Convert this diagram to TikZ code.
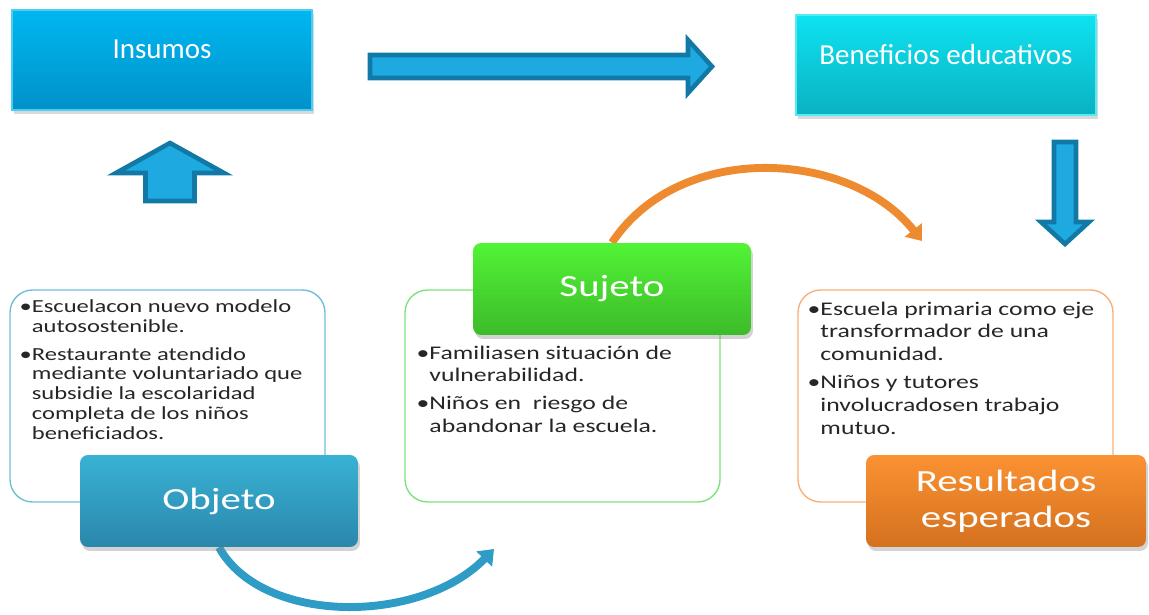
\documentclass[tikz,border=0pt]{standalone}
\usepackage{fontspec}
\setmainfont{Carlito}
\newfontfamily\widefont[FakeStretch=1.33]{Carlito}
\usepackage{xcolor}
\usetikzlibrary{arrows.meta,positioning,shadows,backgrounds}

\definecolor{insumostop}{HTML}{00B7F0}
\definecolor{insumosbot}{HTML}{0191C9}
\definecolor{benefitop}{HTML}{0EE2F0}
\definecolor{benefibot}{HTML}{0AB2C2}
\definecolor{arrowfill}{HTML}{1EAAE0}
\definecolor{arrowline}{HTML}{1279A6}
\definecolor{objetotop}{HTML}{38B2D4}
\definecolor{objetobot}{HTML}{2B87AC}
\definecolor{objetoline}{HTML}{70BEDA}
\definecolor{sujetotop}{HTML}{52F336}
\definecolor{sujetobot}{HTML}{3DBB2A}
\definecolor{sujetoline}{HTML}{7EE27E}
\definecolor{resultop}{HTML}{FB9233}
\definecolor{resulbot}{HTML}{D4711F}
\definecolor{resulline}{HTML}{F7B07A}
\definecolor{bluearc}{HTML}{2E9CC6}
\definecolor{orangearc}{HTML}{EE8B30}

\begin{document}
\begin{tikzpicture}[
    x=0.02cm, y=-0.02cm,
    topbox/.style={rectangle, minimum width=6cm, minimum height=2cm, line width=0.8pt,
        drop shadow={opacity=0.3, shadow xshift=0.04cm, shadow yshift=-0.08cm}},
    toptext/.style={text=white, inner sep=0pt, font=\fontsize{16.5}{19}\selectfont},
    listbox/.style={rectangle, rounded corners=0.45cm, draw=#1, line width=0.8pt, fill=white,
        minimum width=6.3cm, minimum height=4.24cm},
    listtext/.style={align=left, inner sep=0pt, anchor=north west, text=black!85},
    tagbox/.style={rectangle, rounded corners=0.16cm, minimum width=5.56cm, minimum height=1.84cm,
        text=white, align=center, font=\widefont\fontsize{17.5}{20.4}\selectfont,
        drop shadow={opacity=0.35, shadow xshift=0.04cm, shadow yshift=-0.08cm}},
    blockarrow/.style={draw=arrowline, fill=arrowfill, line width=2.6pt, line join=miter},
    curvearrow/.style={line width=4.5pt, -{Triangle[width=12pt,length=8pt]}}
]
\useasboundingbox (0,0) rectangle (1149,615);

% Top row
\node[topbox, top color=insumostop, bottom color=insumosbot, draw=insumostop!70!white] (insumos) at (162,60) {};
\node[toptext] (insumostext) at (162,49) {Insumos};
\node[topbox, top color=benefitop, bottom color=benefibot, draw=benefitop!70!white] (benef) at (946,65) {};
\node[toptext] (beneftext) at (946,55) {Beneficios educativos};

% Block arrows
\draw[blockarrow] (370,55) -- (688,55) -- (688,40) -- (712,66.5) -- (688,93) -- (688,78) -- (370,78) -- cycle;
\draw[blockarrow] (170,143) -- (224,173) -- (194.5,173) -- (194.5,201) -- (145.5,201) -- (145.5,173) -- (116,173) -- cycle;
\draw[blockarrow] (1054,142) -- (1076,142) -- (1076,222) -- (1089,222) -- (1065,244) -- (1041,222) -- (1054,222) -- cycle;

% Lists
\node[listbox=objetoline] (objlist) at (167.5,396) {};
\node[listbox=sujetoline] (sujlist) at (562.5,396) {};
\node[listbox=resulline] (reslist) at (955.5,396) {};

\node[listtext, font=\widefont\fontsize{10.5}{11.3}\selectfont,
    below right=0.2cm and 0.2cm of objlist.north west] (objtext)
    {\textbullet Escuelacon nuevo modelo\\
     \phantom{\textbullet}autosostenible.\\[4.5pt]
     \textbullet Restaurante atendido\\
     \phantom{\textbullet}mediante voluntariado que\\
     \phantom{\textbullet}subsidie la escolaridad\\
     \phantom{\textbullet}completa de los niños\\
     \phantom{\textbullet}beneficiados.};
\node[listtext, font=\widefont\fontsize{11}{13}\selectfont,
    below right=1.12cm and 0.24cm of sujlist.north west] (sujtext)
    {\textbullet Familiasen situación de\\
     \phantom{\textbullet}vulnerabilidad.\\[2.8pt]
     \textbullet Niños en \ riesgo de\\
     \phantom{\textbullet}abandonar la escuela.};
\node[listtext, font=\widefont\fontsize{11}{13}\selectfont,
    below right=0.24cm and 0.2cm of reslist.north west] (restext)
    {\textbullet Escuela primaria como eje\\
     \phantom{\textbullet}transformador de una\\
     \phantom{\textbullet}comunidad.\\[2.8pt]
     \textbullet Niños y tutores\\
     \phantom{\textbullet}involucradosen trabajo\\
     \phantom{\textbullet}mutuo.};

% Tags
\node[tagbox, top color=objetotop, bottom color=objetobot] (objeto) at (219,501) {Objeto};
\node[tagbox, top color=sujetotop, bottom color=sujetobot] (sujeto) at (612,289) {Sujeto};
\node[tagbox, top color=resultop, bottom color=resulbot, minimum width=5.6cm] (result) at (1006,501) {Resultados\\esperados};

% Curved arrows
\coordinate (bluetip) at (494,549);
\coordinate (orangetip) at (922,241);
\begin{scope}[on background layer]
\draw[curvearrow, draw=bluearc] (objeto.south) .. controls (262,625) and (420,625) .. (bluetip);
\draw[curvearrow, draw=orangearc] (sujeto.north) .. controls (680,140) and (850,150) .. (orangetip);
\end{scope}
\end{tikzpicture}
\end{document}
